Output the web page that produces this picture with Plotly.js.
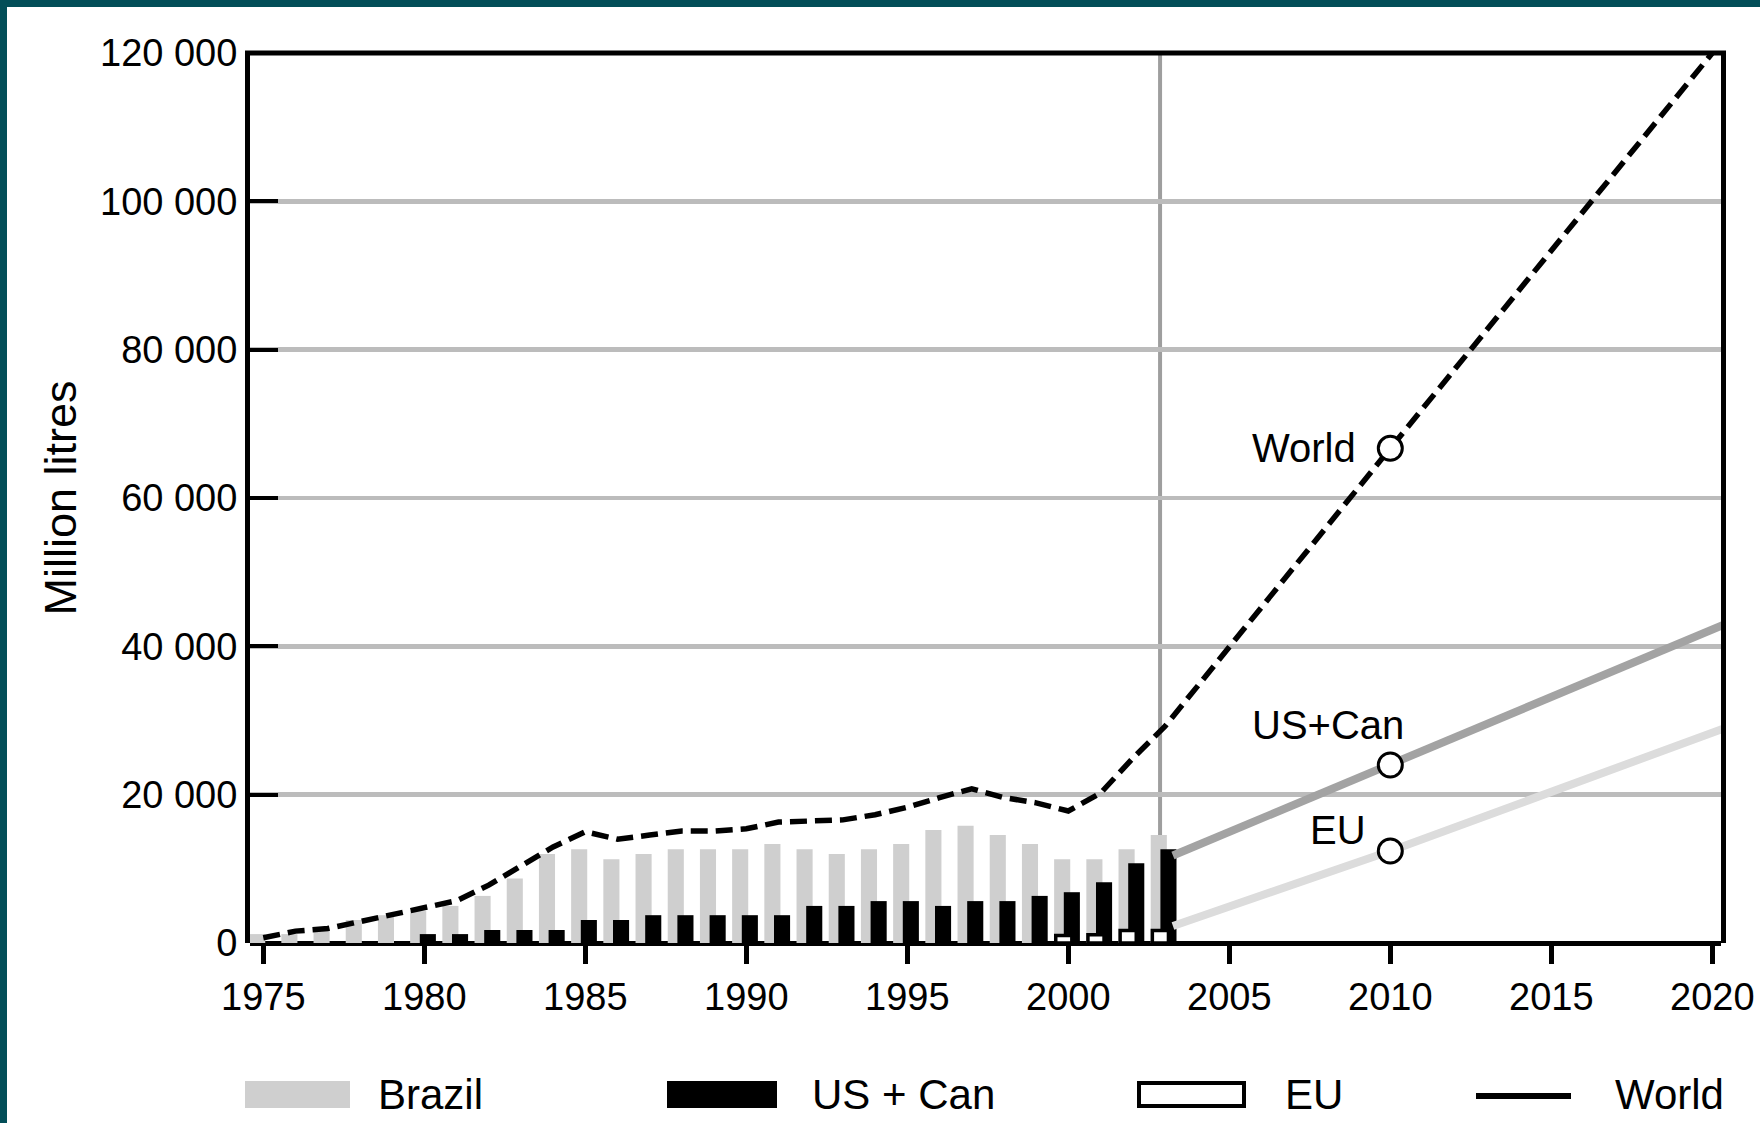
<!DOCTYPE html>
<html><head><meta charset="utf-8">
<script src="https://cdn.plot.ly/plotly-3.0.1.min.js"></script>
<style>
html,body{margin:0;padding:0;background:#034e58;width:1760px;height:1123px;overflow:hidden}
#chart{position:absolute;left:7px;top:7px;width:1753px;height:1116px;background:#fff}
</style></head><body><div id="chart"></div>
<script>
// ---- data ----
const years = [1975,1976,1977,1978,1979,1980,1981,1982,1983,1984,1985,1986,1987,1988,1989,1990,1991,1992,1993,1994,1995,1996,1997,1998,1999,2000,2001,2002,2003];
const brazil = [1200,1200,1750,3100,3750,4300,5000,6350,8700,12000,12650,11300,12000,12650,12650,12650,13350,12650,12000,12650,13350,15250,15800,14550,13350,11300,11300,12650,14550];
const usCan  = [0,0,0,0,0,1200,1200,1750,1750,1750,3100,3100,3750,3750,3750,3750,3750,5000,5000,5650,5650,5000,5650,5650,6350,6850,8200,10750,12650];
const euYears = [2000,2001,2002,2003];
const eu      = [1000,1100,1700,1700];
const world   = [700,1600,1950,2900,3700,4650,5700,7800,10300,12950,15000,14000,14550,15100,15100,15400,16300,16450,16600,17300,18300,19600,20800,19600,18900,17800,20200,24900,29200];
const worldProjYears = [2010,2020];
const worldProj      = [66700,120000];
const projYears  = [2003.25,2010,2020.4];
const usCanProj  = [11800,24000,43000];
const euProj     = [2300,12400,29000];
const markerYears  = [2010,2010,2010];
const markerValues = [66700,24000,12400];
const markerLabels = ['World','US+Can','EU'];
const projectionStart = 2002.85;
const xTicks = [1975,1980,1985,1990,1995,2000,2005,2010,2015,2020];
const yTicks = [0,20000,40000,60000,80000,100000,120000];
const yTickText = ['0','20 000','40 000','60 000','80 000','100 000','120 000'];
const legendLabels = ['Brazil','US + Can','EU','World'];
const yTitle = 'Million litres';

// ---- layout geometry (page pixels) ----
const PL = 250, PR = 1721, PT = 53, PB = 943;
const W = PR - PL, H = PB - PT;
const px = X => (X - PL) / W;
const py = Y => (PB - Y) / H;
const FONT = 'Liberation Sans, Arial, sans-serif';

const traces = [
  {type:'bar', x: years, y: brazil, offset:-0.44, width:0.5, marker:{color:'#cfcfcf', line:{width:0}}},
  {type:'bar', x: years, y: usCan, offset:-0.14, width:0.5, marker:{color:'#000000', line:{width:0}}},
  {type:'bar', x: euYears, y: eu, offset:-0.39, width:0.5, marker:{color:'#ffffff', line:{color:'#000000', width:3.5}}},
  {type:'scatter', mode:'lines', x: projYears, y: usCanProj, line:{color:'#a3a3a3', width:8}},
  {type:'scatter', mode:'lines', x: projYears, y: euProj, line:{color:'#dcdcdc', width:8}},
  {type:'scatter', mode:'lines', x: years.concat(worldProjYears), y: world.concat(worldProj), line:{color:'#000000', width:5.5, dash:'17px,8px'}},
  {type:'scatter', mode:'markers', x: markerYears, y: markerValues, marker:{symbol:'circle', size:24, color:'#ffffff', line:{color:'#000000', width:3}}}
];

const labelShift = [[-32,0,'right'],[16,40,'right'],[-22,21,'right']];
const annotations = markerLabels.map((t,i)=>({
  x: markerYears[i], y: markerValues[i], xref:'x', yref:'y', text:t, showarrow:false,
  xanchor: labelShift[i][2], yanchor:'middle', xshift: labelShift[i][0], yshift: labelShift[i][1],
  font:{family:FONT, size:40, color:'#000'}
}));

// legend (drawn manually)
const legX = [[245,350,376],[667,777,810],[1137,1246,1283],[1476,1571,1613]];
const legY0 = 1081, legY1 = 1108, legYc = 1094;
const shapes = [
  {type:'line', xref:'x', yref:'paper', x0:projectionStart, x1:projectionStart, y0:0, y1:1, layer:'between', line:{color:'#9e9e9e', width:4}},
  {type:'line', xref:'paper', yref:'paper', x0:px(PL-5), x1:px(PR+5), y0:1, y1:1, line:{color:'#000', width:5}},
  {type:'rect', xref:'paper', yref:'paper', x0:px(legX[0][0]), x1:px(legX[0][1]), y0:py(legY1), y1:py(legY0), fillcolor:'#cfcfcf', line:{width:0}},
  {type:'rect', xref:'paper', yref:'paper', x0:px(legX[1][0]), x1:px(legX[1][1]), y0:py(legY1), y1:py(legY0), fillcolor:'#000', line:{width:0}},
  {type:'rect', xref:'paper', yref:'paper', x0:px(legX[2][0]+2), x1:px(legX[2][1]-2), y0:py(legY1-2), y1:py(legY0+2), fillcolor:'#fff', line:{color:'#000', width:4}},
  {type:'line', xref:'paper', yref:'paper', x0:px(legX[3][0]), x1:px(legX[3][1]), y0:py(1096), y1:py(1096), line:{color:'#000', width:6}}
];
legendLabels.forEach((t,i)=>annotations.push({
  xref:'paper', yref:'paper', x:px(legX[i][2]), y:py(legYc), xanchor:'left', yanchor:'middle',
  text:t, showarrow:false, font:{family:FONT, size:42, color:'#000'}
}));

const layout = {
  width:1753, height:1116,
  margin:{l:PL-7, r:1760-PR, t:PT-7, b:1123-PB, pad:0},
  paper_bgcolor:'#ffffff', plot_bgcolor:'#ffffff',
  showlegend:false, barmode:'overlay', hovermode:false,
  font:{family:FONT, color:'#000'},
  xaxis:{range:[1974.587,2020.27], tickvals:xTicks, ticks:'outside', ticklen:20, tickwidth:4.5, tickcolor:'#000',
         showgrid:false, showline:false, zeroline:false, tickfont:{family:FONT, size:38, color:'#000'}},
  yaxis:{range:[0,120000], tickvals:yTicks, ticktext:yTickText, ticks:'inside', ticklen:28, tickwidth:4, tickcolor:'#000',
         showgrid:true, gridcolor:'#bcbcbc', gridwidth:4.5, showline:true, linecolor:'#000', linewidth:5, mirror:true,
         zeroline:true, zerolinecolor:'#000', zerolinewidth:5,
         tickfont:{family:FONT, size:38, color:'#000'},
         title:{text:yTitle, font:{family:FONT, size:45, color:'#000'}, standoff:11}},
  shapes:shapes, annotations:annotations
};
Plotly.newPlot('chart', traces, layout, {staticPlot:true, displayModeBar:false});
</script></body></html>
